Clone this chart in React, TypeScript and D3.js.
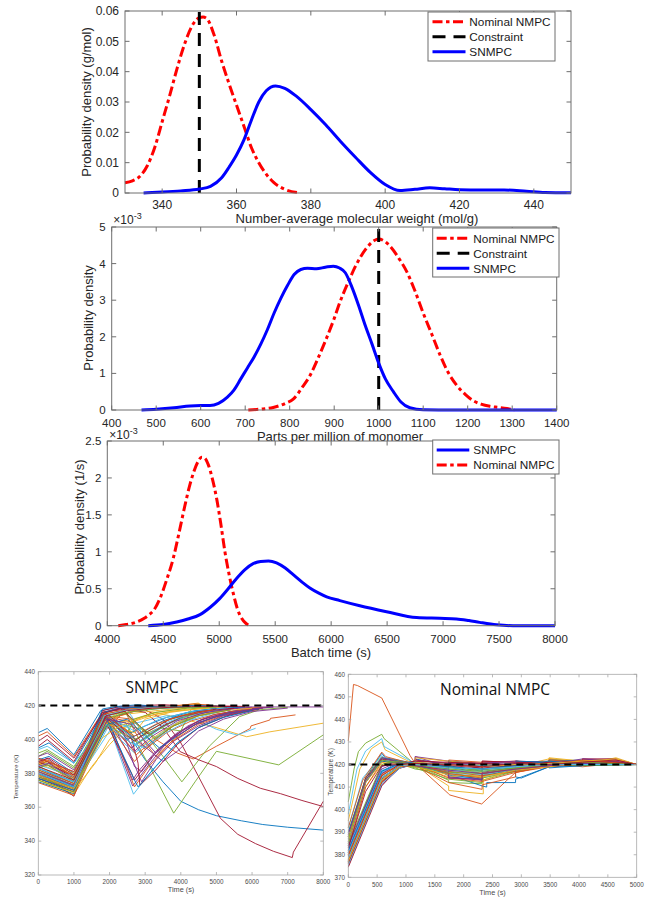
import React from 'react';
import * as d3 from 'd3';

const FONT = "'Liberation Sans', Arial, sans-serif";
const TITLE_FONT = "'Open Sans', 'Noto Sans', sans-serif";
const MATLAB = ['#0072BD', '#D95319', '#EDB120', '#7E2F8E', '#77AC30', '#4DBEEE', '#A2142F'];
const RED = '#ff0000';
const BLUE = '#0000ff';

// ---------- Panel 1: number-average molecular weight ----------
const mwNominalX = [330, 332, 334, 336, 338, 340, 342, 344, 346, 348, 350, 351, 352, 354, 356, 358, 360, 362, 364, 366, 368, 370, 373, 377];
const mwNominalY = [0.0034, 0.004, 0.0055, 0.009, 0.015, 0.0235, 0.032, 0.041, 0.049, 0.055, 0.0578, 0.058, 0.0575, 0.052, 0.0435, 0.036, 0.029, 0.022, 0.015, 0.01, 0.0062, 0.0035, 0.0012, 0.0001];
const mwSnmpcX = [335, 340, 345, 350, 353, 356, 358, 360, 362, 364, 366, 368, 370.5, 373, 376, 380, 384, 388, 392, 396, 400, 404, 408, 412, 416, 420, 426, 432, 438, 443, 450];
const mwSnmpcY = [0, 0.0003, 0.0007, 0.0013, 0.0022, 0.005, 0.0085, 0.0125, 0.0175, 0.024, 0.03, 0.0337, 0.0353, 0.0345, 0.032, 0.0275, 0.0225, 0.017, 0.0118, 0.0068, 0.0028, 0.0008, 0.0012, 0.0017, 0.0014, 0.0011, 0.001, 0.001, 0.0006, 0.0002, 0.0001];
const mwConstraint = 350;
const mwXTicks = [340, 360, 380, 400, 420, 440];
const mwYTicks = [0, 0.01, 0.02, 0.03, 0.04, 0.05, 0.06];

// ---------- Panel 2: ppm of monomer (x1e-3) ----------
const ppmSnmpcX = [467, 500, 540, 576, 600, 621, 640, 660, 675, 690, 705, 720, 735, 750, 765, 780, 795, 810, 825, 840, 860, 880, 898, 912, 925, 940, 955, 970, 985, 1000, 1015, 1033, 1050, 1070, 1100, 1200, 1400];
const ppmSnmpcY = [0, 0.02, 0.06, 0.11, 0.12, 0.12, 0.18, 0.35, 0.55, 0.85, 1.15, 1.45, 1.8, 2.2, 2.65, 3.05, 3.4, 3.7, 3.84, 3.87, 3.86, 3.9, 3.93, 3.88, 3.75, 3.35, 2.85, 2.3, 1.8, 1.28, 0.85, 0.5, 0.22, 0.06, 0.005, 0, 0];
const ppmNominalX = [707, 740, 763, 790, 808, 830, 846, 865, 883, 900, 913, 930, 950, 970, 990, 1000, 1012, 1025, 1045, 1063, 1080, 1100, 1120, 1138, 1155, 1175, 1195, 1213, 1230, 1250, 1270, 1288, 1305];
const ppmNominalY = [0, 0.03, 0.07, 0.18, 0.3, 0.65, 0.95, 1.45, 1.97, 2.5, 2.95, 3.45, 3.98, 4.38, 4.63, 4.67, 4.62, 4.48, 4.15, 3.78, 3.3, 2.65, 2.05, 1.5, 1.05, 0.68, 0.42, 0.25, 0.16, 0.1, 0.07, 0.04, 0];
const ppmConstraint = 1000;
const ppmXTicks = [400, 500, 600, 700, 800, 900, 1000, 1100, 1200, 1300, 1400];
const ppmYTicks = [0, 1, 2, 3, 4, 5];

// ---------- Panel 3: batch time (x1e-3) ----------
const btSnmpcX = [4366, 4500, 4620, 4720, 4828, 4920, 5006, 5080, 5155, 5230, 5303, 5370, 5440, 5512, 5590, 5661, 5740, 5810, 5890, 5960, 6078, 6256, 6495, 6763, 6971, 7120, 7230, 7327, 7477, 7625, 8000];
const btSnmpcY = [0, 0.015, 0.05, 0.09, 0.15, 0.25, 0.37, 0.5, 0.64, 0.76, 0.84, 0.87, 0.875, 0.85, 0.78, 0.69, 0.59, 0.51, 0.44, 0.39, 0.34, 0.27, 0.19, 0.11, 0.1, 0.092, 0.07, 0.045, 0.012, 0, 0];
const btNominalX = [4098, 4170, 4262, 4330, 4366, 4420, 4471, 4530, 4589, 4640, 4694, 4740, 4768, 4810, 4843, 4870, 4902, 4940, 4977, 5015, 5051, 5090, 5125, 5160, 5200, 5240, 5289];
const btNominalY = [0, 0.015, 0.05, 0.1, 0.14, 0.22, 0.37, 0.62, 0.91, 1.25, 1.63, 1.92, 2.06, 2.22, 2.28, 2.27, 2.18, 1.98, 1.72, 1.37, 1.0, 0.68, 0.44, 0.24, 0.1, 0.03, 0];
const btXTicks = [4000, 4500, 5000, 5500, 6000, 6500, 7000, 7500, 8000];
const btYTicks = [0, 0.5, 1, 1.5, 2, 2.5];

// ---------- Panel 4: SNMPC temperature trajectories (t, T pairs) ----------
const snmpcRuns: number[][] = [
  [0, 379, 1000, 372, 1900, 412, 2500, 404, 3000, 388, 3500, 375, 4000, 363.5, 4500, 358.5, 5000, 355, 5700, 352, 6300, 349.8, 7000, 348.2, 8000, 346.5],
  [0, 383, 250, 385, 1000, 375, 2000, 413, 2700, 410, 3300, 400, 3900, 392, 4350, 388.5, 5000, 396, 5950, 406.5, 5970, 408, 6500, 411.5, 6520, 412.5, 7220, 414.5],
  [0, 376, 1000, 367.5, 1500, 384, 2000, 397, 2600, 410, 3200, 416, 3700, 414, 4900, 407.6, 5850, 401.6, 6500, 404.5, 8000, 409.6],
  [0, 378, 1000, 370, 1800, 416, 2200, 418.3, 3000, 419, 5000, 419.2, 8000, 419.2],
  [0, 385, 250, 387, 1000, 377, 1900, 412, 2450, 410, 3100, 385, 3800, 356.5, 4400, 375, 5000, 393, 6750, 385, 8000, 402.7],
  [0, 387, 1000, 379, 1950, 410, 2672, 367.7, 3200, 382, 3800, 396, 4500, 407, 5000, 412, 5600, 416],
  [0, 376, 250, 377, 1000, 366.5, 1800, 410, 2500, 416, 3000, 417.5, 3500, 412, 3984, 398.7, 4500, 378, 5110, 353.5, 5600, 344, 6100, 338.5, 6600, 334, 7130, 330.3, 7160, 333.5, 8000, 363.5],
  [0, 404, 250, 406.5, 1000, 391, 1750, 417, 2200, 419, 3000, 419.5, 4800, 419.5],
  [0, 402, 250, 404.5, 1000, 390, 1800, 416, 2400, 418.5, 2700, 405, 3000, 394, 3400, 402, 3900, 410, 4500, 415, 5500, 418.5, 6500, 419],
  [0, 377, 1000, 369, 1850, 412, 2500, 415, 3300, 417, 4300, 419, 5200, 419.5],
  [0, 380, 1000, 371, 1900, 413, 2650, 372.5, 3100, 385, 3600, 398, 4200, 408, 4900, 414.5, 5800, 418, 6600, 419],
  [0, 384, 1000, 375, 2000, 411, 2900, 406, 3500, 390, 4030, 375, 4800, 396, 5650, 413.5, 6200, 417.5, 7000, 419],
  [0, 382, 1000, 373, 2000, 405, 2800, 410, 3600, 414, 4400, 412, 5000, 406, 5580, 402.6, 6100, 406.6],
  [0, 396, 250, 400, 1000, 387, 1800, 416, 2500, 418, 3000, 416, 3500, 407, 3984, 392.8, 4500, 388, 5000, 384, 5600, 377, 6232, 371.2, 6800, 368, 7400, 364, 8000, 360.4],
  [0, 375, 1000, 368, 1800, 405, 2200, 414, 2800, 417.5, 4000, 419, 5500, 419.5],
  [0, 379, 1000, 371, 1900, 414, 2600, 412, 3000, 398, 3300, 390, 3800, 400, 4400, 409, 5200, 415, 6000, 418],
  [0, 385, 300, 388, 1000, 378, 2000, 413, 2550, 418, 3800, 419.5, 4400, 420.5, 5000, 419.5],
  [0, 386, 250, 389, 1000, 377, 1950, 414, 2700, 385, 2900, 375, 3300, 388, 3800, 399, 4500, 408, 5200, 414, 6000, 417.5],
  [0, 380, 1000, 372, 1900, 408, 2600, 398, 3000, 404, 3600, 411, 4300, 416, 5100, 418.5],
  [0, 377, 1000, 370, 1950, 407, 2700, 392, 3200, 400, 3800, 409, 4600, 415.5, 5500, 418.5],
  [0, 381, 1000, 373, 1800, 417, 2300, 419.5, 3500, 420.5, 4500, 419.5, 5400, 419.5],
  [0, 388, 300, 390, 1000, 380, 1950, 413, 2500, 400, 2900, 404, 3500, 411, 4200, 416, 5000, 418.5, 5800, 419],
  [0, 374.5, 1000, 367, 1800, 404, 2300, 414, 2900, 418, 3800, 419.5, 4800, 420.5],
  [0, 378, 1000, 370, 1600, 386, 2000, 400, 2600, 410, 3300, 415, 4200, 418, 5300, 419],
  [0, 383, 1000, 374, 1900, 412, 2600, 395, 3000, 401, 3500, 408, 4200, 414, 5100, 417.5, 6000, 419],
  [0, 390, 250, 393, 1000, 383, 1850, 415, 2400, 417, 2900, 406, 3300, 400, 3700, 407, 4300, 413, 5200, 417.5],
  [0, 384, 250, 386, 1000, 376, 1900, 411, 2500, 408, 2700, 396, 3100, 402, 3700, 410, 4400, 415.5, 5300, 418],
  [0, 377, 1000, 369, 1900, 410, 2620, 380, 2700, 376, 3200, 390, 3800, 402, 4500, 411, 5300, 416, 6300, 418.5],
  [0, 381, 1000, 372.5, 1850, 414, 2600, 404, 3000, 408, 3600, 413, 4400, 417, 5300, 418.8],
  [0, 387, 1000, 379, 1900, 415, 2700, 372, 3100, 384, 3700, 398, 4500, 409, 5300, 415, 6200, 417.8],
  [0, 376, 1000, 368.5, 1900, 409, 2500, 411, 3300, 416, 4000, 418, 4500, 421, 4800, 419],
  [0, 389, 1000, 381, 1900, 415, 2650, 376, 2800, 381, 3300, 393, 3900, 404, 4600, 412, 5500, 417, 6500, 419],
  [0, 382, 1000, 374, 1950, 410, 2500, 404, 2700, 412, 3300, 416, 4200, 418.5, 5000, 419],
  [0, 379, 1000, 371, 1850, 413, 2500, 417.5, 2800, 408, 3000, 400, 3400, 406, 3900, 412, 4700, 416.5],
  [0, 385, 250, 387, 1000, 377, 1850, 416, 2400, 418.5, 3200, 419.5, 4200, 420, 5800, 419.5],
  [0, 383, 1000, 375, 1800, 418, 2200, 419.5, 2800, 420.5, 3500, 419, 4500, 420, 5200, 419.5],
  [0, 378, 1000, 370, 1900, 412, 2700, 387, 3000, 394, 3600, 404, 4300, 411, 5000, 415, 6000, 418],
  [0, 386, 1000, 377, 1900, 411, 2400, 407, 2900, 396, 3500, 405, 4100, 412, 5000, 416.5, 6000, 418.5],
  [0, 380, 1000, 372, 1850, 415, 2300, 410, 2700, 384, 2900, 381, 3400, 395, 4100, 406, 4900, 413, 5800, 417],
  [0, 392, 250, 394, 1000, 384, 1900, 413, 2700, 400, 3400, 407, 4000, 405, 4300, 418, 4800, 419.5],
  [0, 385, 1000, 378, 1900, 414, 2700, 405, 3400, 412, 4300, 416.5, 5200, 418.5],
  [0, 379, 1000, 371, 1900, 416, 2600, 402, 2800, 386, 2850, 373, 3300, 382, 3900, 397, 4500, 407, 5300, 414, 6200, 418],
  [0, 395, 300, 398, 1000, 386, 1850, 416, 2300, 418.5, 3500, 419.5, 5000, 420],
  [0, 382, 1000, 374, 1950, 411, 2500, 398, 2750, 391, 3200, 399, 3800, 408, 4500, 414, 5400, 417.5],
  [0, 388, 1000, 380, 1900, 409, 2300, 415, 2800, 417.5, 3600, 419, 4500, 421.5, 4600, 419],
  [0, 384, 300, 386, 1000, 376, 1900, 414, 2500, 401, 2700, 393, 3200, 402, 3900, 411, 4700, 416, 5600, 418.5],
  [0, 378, 1000, 371, 1900, 409, 2400, 403, 2800, 398, 3300, 405, 3900, 412, 4600, 416.5],
  [0, 394, 250, 396, 1000, 386, 1900, 409, 2600, 398, 3000, 395, 3500, 403, 4200, 411, 5000, 416],
  [0, 399, 250, 402.5, 1000, 389, 1800, 415, 2300, 418.5, 2700, 411, 3100, 403, 3500, 408, 4100, 414, 5000, 418],
  [0, 380, 1000, 372, 1900, 413, 2700, 376, 2800, 372, 3300, 384, 3900, 398, 4500, 407, 5200, 413, 6000, 417],
  [0, 386, 250, 388, 1000, 378, 1850, 415, 2600, 418, 3600, 419.5, 4400, 421, 5100, 419.5],
  [0, 381, 1000, 373, 1950, 409, 2700, 404, 3000, 412, 3700, 416, 4600, 418.5],
  [0, 390, 250, 392, 1000, 382, 1900, 414, 2800, 399, 3500, 387, 3900, 393, 4500, 405, 5200, 412, 6000, 416.5, 7000, 418.5],
  [0, 376, 1000, 369, 1850, 412, 2500, 416, 3500, 418.5, 4800, 419.5],
  [0, 383, 1000, 375, 1900, 413, 2600, 402, 2700, 397, 3100, 403, 3600, 410, 4300, 415.5],
  [0, 387, 300, 389, 1000, 379, 1900, 413, 2400, 404, 2700, 399, 3100, 405, 3700, 412, 4500, 416.5, 5500, 418.5],
  [0, 377, 1000, 370, 1950, 409, 2500, 412, 2900, 404, 3400, 395, 3900, 402, 4500, 410, 5300, 415.5, 6200, 418],
  [0, 389, 1000, 381, 1900, 414, 2700, 402, 3300, 409, 4000, 414, 4900, 417.5],
  [0, 379, 1000, 371, 1800, 401, 2300, 408, 2900, 413, 3700, 416.5, 4800, 418.5],
  [0, 381, 1000, 373, 1950, 412, 2600, 409, 3000, 399, 3300, 392, 3800, 401, 4500, 410, 5300, 415.5, 6300, 418.5],
  [0, 383, 250, 385, 1000, 376, 1850, 414, 2400, 416, 2900, 407, 3300, 401, 3800, 408, 4500, 414, 5400, 417.5],
  [0, 380, 1000, 372, 1850, 414, 2400, 417, 3000, 418.5, 4000, 419.5, 5100, 419.5],
  [0, 384, 1000, 376, 1900, 414, 2500, 417, 3200, 418.5, 4300, 419.5, 5600, 419.5],
];
const snmpcXTicks = [0, 1000, 2000, 3000, 4000, 5000, 6000, 7000, 8000];
const snmpcYTicks = [320, 340, 360, 380, 400, 420, 440];

// ---------- Panel 5: Nominal NMPC temperature trajectories ----------
const nmpcRuns: number[][] = [
  [0, 388, 300, 414, 580, 425, 640, 423, 1160, 420.5, 1160, 422.5, 1740, 419.5, 1740, 421.5, 2320, 418, 2320, 421, 2900, 419.5, 2900, 421, 3480, 419.8, 3480, 421.5, 4060, 419.8, 4060, 421.8, 4640, 420, 5000, 420],
  [0, 430.5, 90, 455.5, 160, 455, 580, 449.5, 1070, 424, 1160, 420.5, 1740, 407, 1760, 406.5, 2313, 402.5, 2750, 413, 2900, 416.5, 3480, 419.5, 4060, 420, 5000, 420],
  [0, 395, 200, 418, 400, 427, 580, 430, 640, 426.5, 1160, 420, 1740, 410.5, 1740, 408.5, 2340, 407, 2340, 415.5, 2900, 418.5, 3480, 419.5, 3500, 422.5, 4060, 420.5, 4640, 422.5, 5000, 420],
  [0, 382, 400, 408, 580, 416, 800, 419.5, 1160, 421, 1160, 423.5, 1740, 421.5, 1740, 420, 2320, 419, 2320, 421, 2900, 420.5, 2900, 421.5, 3480, 420, 4060, 420.5, 4060, 422, 4640, 422.5, 4640, 420.5, 5000, 420],
  [0, 403.5, 100, 418, 175, 425.7, 300, 429.5, 580, 433.4, 620, 431.5, 1160, 420, 1740, 413, 1740, 412, 2320, 411.5, 2320, 413, 2900, 417, 3480, 419.5, 4060, 420, 5000, 420],
  [0, 398, 150, 418, 300, 426, 580, 431.5, 620, 428, 1160, 420.5, 1740, 416, 1740, 414.5, 2320, 414, 2900, 417.5, 3480, 419, 4060, 421, 5000, 420],
  [0, 375, 580, 412, 900, 419, 1160, 420.5, 1740, 420, 1740, 421.5, 2320, 420.5, 2900, 420, 2900, 421.5, 3480, 421, 4060, 420.5, 4640, 421.5, 5000, 420],
  [0, 377, 580, 414, 900, 419.5, 1160, 420, 1740, 416.5, 1740, 415.5, 2320, 410.5, 2400, 410, 2400, 412, 2900, 412, 2900, 413.5, 3480, 419, 3480, 421.5, 4060, 422, 4640, 420.5, 5000, 420],
  [0, 380, 580, 416, 900, 420, 1160, 421.5, 1740, 418.5, 1740, 417, 2320, 413, 2320, 415.5, 2900, 418.5, 3480, 420.5, 4060, 419, 4640, 420.5, 5000, 420],
  [0, 384, 300, 410, 580, 420, 700, 421, 1160, 419, 1740, 418, 2320, 416, 2900, 419, 3480, 422.5, 3500, 421, 4060, 420, 4640, 423, 5000, 420],
  [0, 376, 580, 411, 900, 418.5, 1160, 420, 1160, 422.5, 1740, 415, 1740, 414, 2320, 413.5, 2320, 416, 2900, 418, 2900, 421.5, 3480, 420.5, 4060, 420.5, 4060, 422.5, 4640, 421, 5000, 420],
  [0, 386, 300, 412, 580, 422, 700, 421.5, 1160, 418.5, 1740, 413.5, 2320, 412, 2320, 414, 2900, 417, 3480, 420, 4060, 419.5, 5000, 420],
  [0, 379, 580, 414.5, 900, 419.5, 1160, 421, 1740, 419.5, 1740, 421, 2320, 419, 2900, 420, 3480, 419.5, 3480, 421, 4060, 420, 5000, 420],
  [0, 374.5, 580, 410.5, 850, 418, 1160, 420.5, 1160, 422, 1740, 420.5, 2320, 419.5, 2320, 421.5, 2900, 421, 3480, 420, 4060, 421, 4060, 422.5, 4640, 422.5, 4640, 420.5, 5000, 420],
  [0, 381, 580, 417, 800, 420, 1160, 421, 1740, 417.5, 1740, 419.5, 2320, 417, 2320, 419.5, 2900, 419, 2900, 414.5, 3000, 414, 3480, 419, 4060, 419.5, 5000, 420],
  [0, 383, 300, 410, 580, 421, 700, 422, 1160, 419.5, 1740, 419, 1740, 422, 2320, 421, 2900, 421.5, 3480, 420, 3480, 422.5, 4060, 421, 4640, 420, 5000, 420],
  [0, 378, 580, 413, 900, 419, 1160, 419.5, 1740, 414.5, 2320, 415.5, 2320, 413, 2900, 418, 3480, 420.5, 3480, 422.5, 4060, 421.5, 4640, 421, 5000, 420],
  [0, 385, 300, 412, 580, 422.5, 700, 421.5, 1160, 420, 1160, 423.5, 1740, 419, 1740, 421.5, 2320, 418, 2900, 419, 2900, 421, 3480, 421.5, 3480, 420, 4060, 421.5, 4640, 422.5, 5000, 420],
  [0, 390, 300, 414, 580, 423.5, 700, 422, 1160, 418, 1740, 416, 2320, 414.5, 2900, 418.5, 3480, 419.5, 5000, 420],
  [0, 392, 250, 414, 580, 424, 650, 422, 1160, 419.5, 1740, 417, 2320, 416, 2900, 418.5, 3480, 420, 4060, 420.5, 5000, 420],
  [0, 377.5, 580, 413.5, 880, 419.5, 1160, 421, 1160, 419, 1740, 419.5, 1740, 421, 2320, 420, 2320, 418, 2900, 418.5, 3480, 419.5, 4060, 421.5, 4640, 421, 5000, 420],
  [0, 386, 300, 412, 580, 421.5, 1160, 419.5, 1740, 418.5, 1740, 421.5, 2320, 420, 2900, 419.5, 2900, 421.5, 3480, 421, 3480, 418.5, 4060, 419.5, 4060, 421.5, 4640, 421, 5000, 420],
  [0, 376, 580, 412, 900, 419, 1160, 419.5, 1740, 412, 2320, 409, 2320, 411, 2900, 414.5, 2900, 416.5, 3480, 419, 4060, 420.5, 5000, 420],
  [0, 380, 580, 415, 850, 419.5, 1160, 421.5, 1160, 423, 1740, 421.5, 2320, 420, 2900, 419.5, 3480, 421.5, 3480, 423, 4060, 421.5, 4640, 422, 4640, 420.5, 5000, 420],
  [0, 383, 580, 418, 800, 420.5, 1160, 419.5, 1740, 416.5, 1740, 414.5, 2320, 413, 2320, 416, 2900, 418, 3480, 420, 4060, 420.5, 4640, 420, 5000, 420],
  [0, 379, 580, 414, 900, 419.5, 1160, 420, 1740, 418.5, 2320, 417.5, 2320, 419.5, 2900, 420, 3480, 420.5, 4060, 420, 5000, 420],
  [0, 375.5, 580, 411.5, 900, 418.5, 1160, 420.5, 1740, 420.5, 2320, 419.5, 2900, 420.5, 3480, 419.5, 4060, 421, 5000, 420],
  [0, 388, 300, 414, 580, 422.5, 1160, 420.5, 1740, 418.5, 1740, 420.5, 2320, 419, 2320, 421.5, 2900, 421, 3480, 420.5, 4060, 420, 4640, 421, 5000, 420],
  [0, 384, 580, 419.5, 1160, 420, 1740, 419, 2320, 416, 2320, 418, 2900, 418.5, 2900, 420.5, 3480, 420, 3480, 422, 4060, 421.5, 4640, 420, 5000, 420],
  [0, 392, 250, 413, 580, 425.5, 650, 423.5, 1160, 420, 1740, 414, 2320, 412.5, 2900, 416.5, 3480, 419.5, 4060, 420, 5000, 420],
  [0, 388, 300, 413, 580, 423, 1160, 420, 1740, 417.5, 2320, 416.5, 2900, 419, 3480, 420, 4060, 421.5, 4640, 422.5, 5000, 420],
  [0, 381, 580, 416, 850, 420, 1160, 421.5, 1740, 420.5, 2320, 420.5, 2900, 421.5, 2900, 420, 3480, 421, 4060, 421, 4640, 421.5, 5000, 420],
  [0, 377, 580, 413, 900, 419.5, 1160, 420.5, 1740, 419, 2320, 417.5, 2900, 419.5, 3480, 420, 5000, 420],
  [0, 383, 580, 417.5, 1160, 421, 1740, 418, 1740, 416, 2320, 415.5, 2900, 418, 3480, 419.5, 4060, 420.5, 5000, 420],
  [0, 379.5, 580, 415, 880, 420, 1160, 421.5, 1740, 421, 2320, 420.5, 2900, 419.5, 3480, 421, 4060, 420, 4640, 421, 5000, 420],
  [0, 390, 300, 413, 580, 423, 1160, 420, 1740, 415.5, 2320, 413.5, 2320, 415, 2900, 417.5, 3480, 419.5, 4060, 420.5, 5000, 420],
  [0, 378, 580, 414, 900, 419.5, 1160, 420, 1740, 417, 2320, 415, 2900, 417, 3480, 420.5, 3480, 422, 4060, 421, 5000, 420],
  [0, 386, 300, 412, 580, 421, 1160, 419, 1740, 415.5, 2320, 414.5, 2900, 417.5, 3480, 419, 4060, 421, 4640, 422, 5000, 420],
  [0, 384, 580, 419, 800, 421, 1160, 420.5, 1740, 418, 1740, 414, 2320, 413.5, 2320, 416.5, 2900, 419, 3480, 420, 4060, 422.5, 4640, 422, 5000, 420],
  [0, 387, 300, 413, 580, 422, 1160, 419, 1740, 416.5, 2320, 416, 2900, 418.5, 3480, 420, 5000, 420],
  [0, 381, 580, 416.5, 850, 420, 1160, 421, 1740, 417.5, 2320, 417, 2900, 419, 3480, 420.5, 4060, 420, 5000, 420],
  [0, 376.5, 580, 412.5, 900, 419, 1160, 420, 1740, 419.5, 2320, 418.5, 2900, 419.5, 3480, 421, 4060, 421.5, 4640, 421, 5000, 420],
  [0, 382, 580, 417, 850, 420, 1160, 421, 1740, 419, 2320, 418, 2900, 419.5, 3480, 421.5, 4060, 420, 4640, 420.5, 5000, 420],
  [0, 380, 580, 415.5, 900, 419.5, 1160, 420.5, 1740, 416, 2320, 414, 2320, 416, 2900, 418, 3480, 419.5, 4060, 422, 5000, 420],
  [0, 377, 580, 413, 900, 419, 1160, 421, 1740, 420, 2320, 419, 2900, 420, 3480, 420.5, 4640, 422.5, 5000, 420],
  [0, 389, 300, 413, 580, 423, 1160, 419.5, 1740, 417.5, 2320, 416, 2900, 418, 3480, 419.5, 4060, 420.5, 5000, 420],
  [0, 385, 580, 420, 800, 421.5, 1160, 420, 1740, 418, 2320, 417, 2900, 418.5, 3480, 420, 4060, 421, 5000, 420],
  [0, 378.5, 580, 414, 900, 419.5, 1160, 420, 1740, 418.5, 2320, 418, 2900, 419, 3480, 420, 5000, 420],
  [0, 383, 300, 408, 580, 419.5, 1160, 420.5, 1740, 420, 2320, 419, 2900, 420.5, 3480, 420, 4060, 421, 4640, 422, 5000, 420],
];
const nmpcXTicks = [0, 500, 1000, 1500, 2000, 2500, 3000, 3500, 4000, 4500, 5000];
const nmpcYTicks = [370, 380, 390, 400, 410, 420, 430, 440, 450, 460];
const tempConstraint = 420;

// ---------- helpers ----------
const zip = (xs: number[], ys: number[]) => xs.map((x, i) => [x, ys[i]] as [number, number]);
const pairs = (a: number[]) => {
  const out: [number, number][] = [];
  for (let i = 0; i < a.length; i += 2) out.push([a[i], a[i + 1]]);
  return out;
};

function Box({ sx, sy, xTicks, yTicks, xFmt, yFmt, fs, tl, color, textColor, xOff, yOff, sw }: any) {
  const [x0, x1] = sx.range();
  const [yb, yt] = sy.range();
  return (
    <g>
      {xTicks.map((t: number) => (
        <g key={'x' + t}>
          <line x1={sx(t)} x2={sx(t)} y1={yb} y2={yb - tl} stroke={color} strokeWidth={sw} />
          <line x1={sx(t)} x2={sx(t)} y1={yt} y2={yt + tl} stroke={color} strokeWidth={sw} />
          <text x={sx(t)} y={yb + xOff} textAnchor="middle" fontSize={fs} fill={textColor} fontFamily={FONT}>{xFmt(t)}</text>
        </g>
      ))}
      {yTicks.map((t: number) => (
        <g key={'y' + t}>
          <line x1={x0} x2={x0 + tl} y1={sy(t)} y2={sy(t)} stroke={color} strokeWidth={sw} />
          <line x1={x1} x2={x1 - tl} y1={sy(t)} y2={sy(t)} stroke={color} strokeWidth={sw} />
          <text x={x0 - yOff} y={sy(t)} dy="0.35em" textAnchor="end" fontSize={fs} fill={textColor} fontFamily={FONT}>{yFmt(t)}</text>
        </g>
      ))}
      <rect x={x0} y={yt} width={x1 - x0} height={yb - yt} fill="none" stroke={color} strokeWidth={sw} />
    </g>
  );
}

const DASHDOT = '10,3.5,3.5,3.5';
const DASH = '13,8';

function Legend({ x0, x1, y0, y1, lx0, lx1, tx, items }: any) {
  return (
    <g>
      <rect x={x0} y={y0} width={x1 - x0} height={y1 - y0} fill="#fff" stroke="#6e6e6e" strokeWidth={1} />
      {items.map((it: any) => (
        <g key={it.label}>
          <line x1={lx0} x2={lx1} y1={it.y} y2={it.y} stroke={it.color} strokeWidth={3} strokeDasharray={it.dash} />
          <text x={tx} y={it.y} dy="0.36em" fontSize={11.8} fill="#1a1a1a" fontFamily={FONT}>{it.label}</text>
        </g>
      ))}
    </g>
  );
}

const fmt = (t: number) => String(t);

export default function App() {
  const sx1 = d3.scaleLinear().domain([330, 450]).range([125, 571]);
  const sy1 = d3.scaleLinear().domain([0, 0.06]).range([193, 11]);
  const l1 = d3.line<[number, number]>().x(d => sx1(d[0])).y(d => sy1(d[1])).curve(d3.curveMonotoneX);
  const sx2 = d3.scaleLinear().domain([400, 1400]).range([111.7, 556.7]);
  const sy2 = d3.scaleLinear().domain([0, 5]).range([410, 227]);
  const l2 = d3.line<[number, number]>().x(d => sx2(d[0])).y(d => sy2(d[1])).curve(d3.curveMonotoneX);
  const sx3 = d3.scaleLinear().domain([4000, 8000]).range([107.3, 555]);
  const sy3 = d3.scaleLinear().domain([0, 2.5]).range([625.7, 441]);
  const l3 = d3.line<[number, number]>().x(d => sx3(d[0])).y(d => sy3(d[1])).curve(d3.curveMonotoneX);
  const sx4 = d3.scaleLinear().domain([0, 8000]).range([38.3, 323.3]);
  const sy4 = d3.scaleLinear().domain([320, 440]).range([875, 671.7]);
  const l4 = d3.line<[number, number]>().x(d => sx4(d[0])).y(d => sy4(d[1]));
  const sx5 = d3.scaleLinear().domain([0, 5000]).range([348.3, 636.7]);
  const sy5 = d3.scaleLinear().domain([370, 460]).range([877.3, 674.3]);
  const l5 = d3.line<[number, number]>().x(d => sx5(d[0])).y(d => sy5(d[1]));

  const topAxis = { fs: 12, tl: 4.5, color: '#6e6e6e', textColor: '#262626', xOff: 15.5, yOff: 6, sw: 1 };
  const midAxis = { ...topAxis, fs: 11.5, xOff: 16.8 };
  const botAxis = { fs: 6.3, tl: 3, color: '#a8a8a8', textColor: '#4a4a4a', xOff: 9.3, yOff: 3.3, sw: 0.8 };

  return (
    <svg width={651} height={897} style={{ position: 'absolute', left: 0, top: 0, background: '#fff' }} fontFamily={FONT}>
      <rect x={0} y={0} width={651} height={897} fill="#fff" />

      {/* ---- Panel 1 ---- */}
      <path d={l1(zip(mwNominalX, mwNominalY)) || ''} fill="none" stroke={RED} strokeWidth={3} strokeDasharray={DASHDOT} />
      <line x1={sx1(mwConstraint)} x2={sx1(mwConstraint)} y1={sy1(0)} y2={sy1(0.06)} stroke="#000" strokeWidth={3} strokeDasharray={DASH} />
      <path d={l1(zip(mwSnmpcX, mwSnmpcY)) || ''} fill="none" stroke={BLUE} strokeWidth={3} />
      <Box sx={sx1} sy={sy1} xTicks={mwXTicks} yTicks={mwYTicks} xFmt={fmt} yFmt={(t: number) => (t === 0 ? '0' : t.toFixed(2))} {...topAxis} />
      <text x={357} y={223} textAnchor="middle" fontSize={13} fill="#262626">Number-average molecular weight (mol/g)</text>
      <text transform={`translate(91,102) rotate(-90)`} textAnchor="middle" fontSize={13} fill="#262626">Probability density (g/mol)</text>
      <Legend x0={428} x1={555} y0={12} y1={61} lx0={432.5} lx1={465.5} tx={469.3}
        items={[{ label: 'Nominal NMPC', color: RED, dash: DASHDOT, y: 21.7 }, { label: 'Constraint', color: '#000', dash: DASH, y: 36.7 }, { label: 'SNMPC', color: BLUE, dash: null, y: 51.7 }]} />

      {/* ---- Panel 2 ---- */}
      <path d={l2(zip(ppmNominalX, ppmNominalY)) || ''} fill="none" stroke={RED} strokeWidth={3} strokeDasharray={DASHDOT} />
      <line x1={sx2(ppmConstraint)} x2={sx2(ppmConstraint)} y1={sy2(0)} y2={sy2(5)} stroke="#000" strokeWidth={3} strokeDasharray={DASH} />
      <path d={l2(zip(ppmSnmpcX, ppmSnmpcY)) || ''} fill="none" stroke={BLUE} strokeWidth={3} />
      <Box sx={sx2} sy={sy2} xTicks={ppmXTicks} yTicks={ppmYTicks} xFmt={fmt} yFmt={fmt} {...midAxis} />
      <text x={113.3} y={224} fontSize={12} fill="#262626">×10<tspan fontSize={9} dy={-5}>-3</tspan></text>
      <text x={340} y={441} textAnchor="middle" fontSize={13} fill="#262626">Parts per million of monomer</text>
      <text transform={`translate(93,318) rotate(-90)`} textAnchor="middle" fontSize={13} fill="#262626">Probability density</text>
      <Legend x0={432.7} x1={559} y0={228} y1={277} lx0={436.7} lx1={469.3} tx={473.3}
        items={[{ label: 'Nominal NMPC', color: RED, dash: DASHDOT, y: 238.3 }, { label: 'Constraint', color: '#000', dash: DASH, y: 253.3 }, { label: 'SNMPC', color: BLUE, dash: null, y: 268.3 }]} />

      {/* ---- Panel 3 ---- */}
      <path d={l3(zip(btNominalX, btNominalY)) || ''} fill="none" stroke={RED} strokeWidth={3} strokeDasharray={DASHDOT} />
      <path d={l3(zip(btSnmpcX, btSnmpcY)) || ''} fill="none" stroke={BLUE} strokeWidth={3} />
      <Box sx={sx3} sy={sy3} xTicks={btXTicks} yTicks={btYTicks} xFmt={fmt} yFmt={fmt} {...midAxis} />
      <text x={109.3} y={438.5} fontSize={12} fill="#262626">×10<tspan fontSize={9} dy={-5}>-3</tspan></text>
      <text x={331} y={657} textAnchor="middle" fontSize={13} fill="#262626">Batch time (s)</text>
      <text transform={`translate(84,527) rotate(-90)`} textAnchor="middle" fontSize={13} fill="#262626">Probability density (1/s)</text>
      <Legend x0={432.7} x1={559} y0={440} y1={474} lx0={436.7} lx1={469.3} tx={473.3}
        items={[{ label: 'SNMPC', color: BLUE, dash: null, y: 450 }, { label: 'Nominal NMPC', color: RED, dash: DASHDOT, y: 465 }]} />

      {/* ---- Panel 4: SNMPC trajectories ---- */}
      <g>
        {snmpcRuns.map((r, i) => (
          <path key={i} d={l4(pairs(r)) || ''} fill="none" stroke={MATLAB[i % 7]} strokeWidth={0.9} />
        ))}
      </g>
      <line x1={sx4(0)} x2={sx4(8000)} y1={sy4(tempConstraint)} y2={sy4(tempConstraint)} stroke="#000" strokeWidth={2} strokeDasharray="7,5" />
      <Box sx={sx4} sy={sy4} xTicks={snmpcXTicks} yTicks={snmpcYTicks} xFmt={fmt} yFmt={fmt} {...botAxis} />
      <text x={181} y={892} textAnchor="middle" fontSize={7.3} fill="#4a4a4a">Time (s)</text>
      <text transform={`translate(18,777) rotate(-90)`} textAnchor="middle" fontSize={6.2} fill="#4a4a4a">Temperature (K)</text>
      <text x={152} y={692.5} textAnchor="middle" fontSize={15.5} fill="#111" fontFamily={TITLE_FONT}>SNMPC</text>

      {/* ---- Panel 5: Nominal NMPC trajectories ---- */}
      <g>
        {nmpcRuns.map((r, i) => (
          <path key={i} d={l5(pairs(r)) || ''} fill="none" stroke={MATLAB[i % 7]} strokeWidth={0.9} />
        ))}
      </g>
      <line x1={sx5(0)} x2={sx5(5000)} y1={sy5(tempConstraint)} y2={sy5(tempConstraint)} stroke="#000" strokeWidth={2} strokeDasharray="7,5" />
      <Box sx={sx5} sy={sy5} xTicks={nmpcXTicks} yTicks={nmpcYTicks} xFmt={fmt} yFmt={fmt} {...botAxis} />
      <text x={492.5} y={895} textAnchor="middle" fontSize={7.3} fill="#4a4a4a">Time (s)</text>
      <text transform={`translate(333,772) rotate(-90)`} textAnchor="middle" fontSize={6.6} fill="#4a4a4a">Temperature (K)</text>
      <text x={495} y={695} textAnchor="middle" fontSize={15.5} fill="#111" fontFamily={TITLE_FONT}>Nominal NMPC</text>
    </svg>
  );
}
